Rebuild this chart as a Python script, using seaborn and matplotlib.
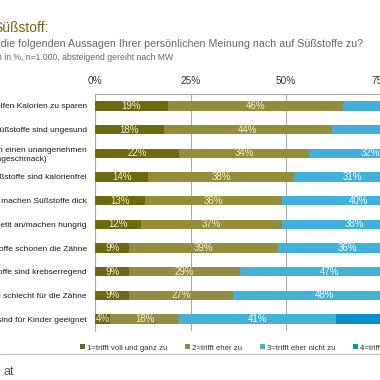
import numpy as np
import pandas as pd
import seaborn as sns
import matplotlib.pyplot as plt
from matplotlib.patches import Patch
from matplotlib.lines import Line2D

# data (4th category mostly outside the crop, estimated)
statements = [
    "Süßstoffe helfen Kalorien zu sparen",
    "Süßstoffe sind ungesund",
    "Süßstoffe haben einen unangenehmen\n(Nachgeschmack)",
    "Süßstoffe sind kalorienfrei",
    "Auf Dauer machen Süßstoffe dick",
    "Süßstoffe regen den Appetit an/machen hungrig",
    "Süßstoffe schonen die Zähne",
    "Süßstoffe sind krebserregend",
    "Süßstoffe sind schlecht für die Zähne",
    "Süßstoffe sind für Kinder geeignet",
]
voll = [19, 18, 22, 14, 13, 12, 9, 9, 9, 4]
eher = [46, 44, 34, 38, 36, 37, 39, 29, 27, 18]
eher_nicht = [25, 30, 32, 31, 40, 38, 36, 47, 48, 41]
gar_nicht = [10, 8, 12, 17, 11, 13, 16, 15, 16, 37]

categories = ["1=trifft voll und ganz zu", "2=trifft eher zu",
              "3=trifft eher nicht zu", "4=trifft gar nicht zu"]
colors = ["#6d690f", "#948d3d", "#41b1da", "#0a8fc8"]
txt_colors = ["#f3efc8", "#f3efc8", "#f4fbff", "#f4fbff"]

df = pd.DataFrame({"statement": statements, "voll": voll, "eher": eher,
                   "eher_nicht": eher_nicht, "gar_nicht": gar_nicht})
cols = ["voll", "eher", "eher_nicht", "gar_nicht"]
cum = df[cols].cumsum(axis=1)

sns.set_style("white")
plt.rcParams["font.family"] = ["Liberation Sans", "DejaVu Sans"]

fig = plt.figure(figsize=(3.8, 3.8), dpi=100)
ax = fig.add_axes([95 / 380, 1 - 331 / 380, 382 / 380, 237 / 380])

# stacked bars: draw cumulative totals from the back to the front
for k in reversed(range(4)):
    sns.barplot(x=cum[cols[k]], y=df["statement"], color=colors[k], width=0.4,
                saturation=1, orient="h", ax=ax, zorder=3, linewidth=0)

for i in range(len(df)):
    left = 0
    for k, c in enumerate(cols):
        v = df.loc[i, c]
        ax.text(left + v / 2, i, f"{v}%", ha="center", va="center",
                fontsize=7, color=txt_colors[k], zorder=4)
        left += v

ax.set_xlim(0, 100)
ax.set_ylim(9.5, -0.5)
ax.set_xlabel("")
ax.set_ylabel("")
ax.xaxis.tick_top()
ax.set_xticks([0, 25, 50, 75, 100])
ax.set_xticklabels(["0%", "25%", "50%", "75%", "100%"])
ax.tick_params(axis="x", length=0, pad=6, labelsize=7.3, labelcolor="#333333")
ax.tick_params(axis="y", length=0, pad=6, labelsize=6, labelcolor="#1a1a1a")
for lab in ax.get_yticklabels():
    lab.set_multialignment("center")
    lab.set_linespacing(1.3)
ax.set_yticks(np.arange(-0.5, 10), minor=True)
ax.tick_params(axis="y", which="minor", length=3, color="#999999", width=0.7)
ax.grid(axis="x", color="#aaaaaa", linewidth=0.8, zorder=0)
ax.set_axisbelow(True)
for s in ["bottom", "right"]:
    ax.spines[s].set_visible(False)
for s in ["top", "left"]:
    ax.spines[s].set_color("#aaaaaa")
    ax.spines[s].set_linewidth(0.8)

# titles (cropped on the left in the reference)
fig.text(-7 / 380, 1 - 28 / 380, "Süßstoff:", fontsize=10, color="#6d690f",
         ha="left", va="center")
fig.text(363 / 380, 1 - 44 / 380,
         "Inwieweit treffen die folgenden Aussagen Ihrer persönlichen Meinung nach auf Süßstoffe zu?",
         fontsize=7.7, color="#666666", ha="right", va="center")
fig.text(173 / 380, 1 - 57 / 380, "Angaben in %, n=1.000, absteigend gereiht nach MW",
         fontsize=6.2, color="#666666", ha="right", va="center")

handles = [Patch(facecolor=c, edgecolor="none") for c in colors]
fig.legend(handles, categories, loc="center left",
           bbox_to_anchor=(80 / 380, 1 - 348 / 380), ncol=4, frameon=False,
           fontsize=5.6, handlelength=0.6, handleheight=0.6, handletextpad=0.3,
           columnspacing=2.3, labelcolor="#333333", borderaxespad=0, borderpad=0)

fig.add_artist(Line2D([0, 1], [1 - 354 / 380] * 2, color="#bbbbbb", lw=0.8,
                      transform=fig.transFigure))
fig.text(4 / 380, 1 - 372 / 380, "at", fontsize=9, color="#555555",
         ha="left", va="center")

fig.savefig("out.png", dpi=100)
